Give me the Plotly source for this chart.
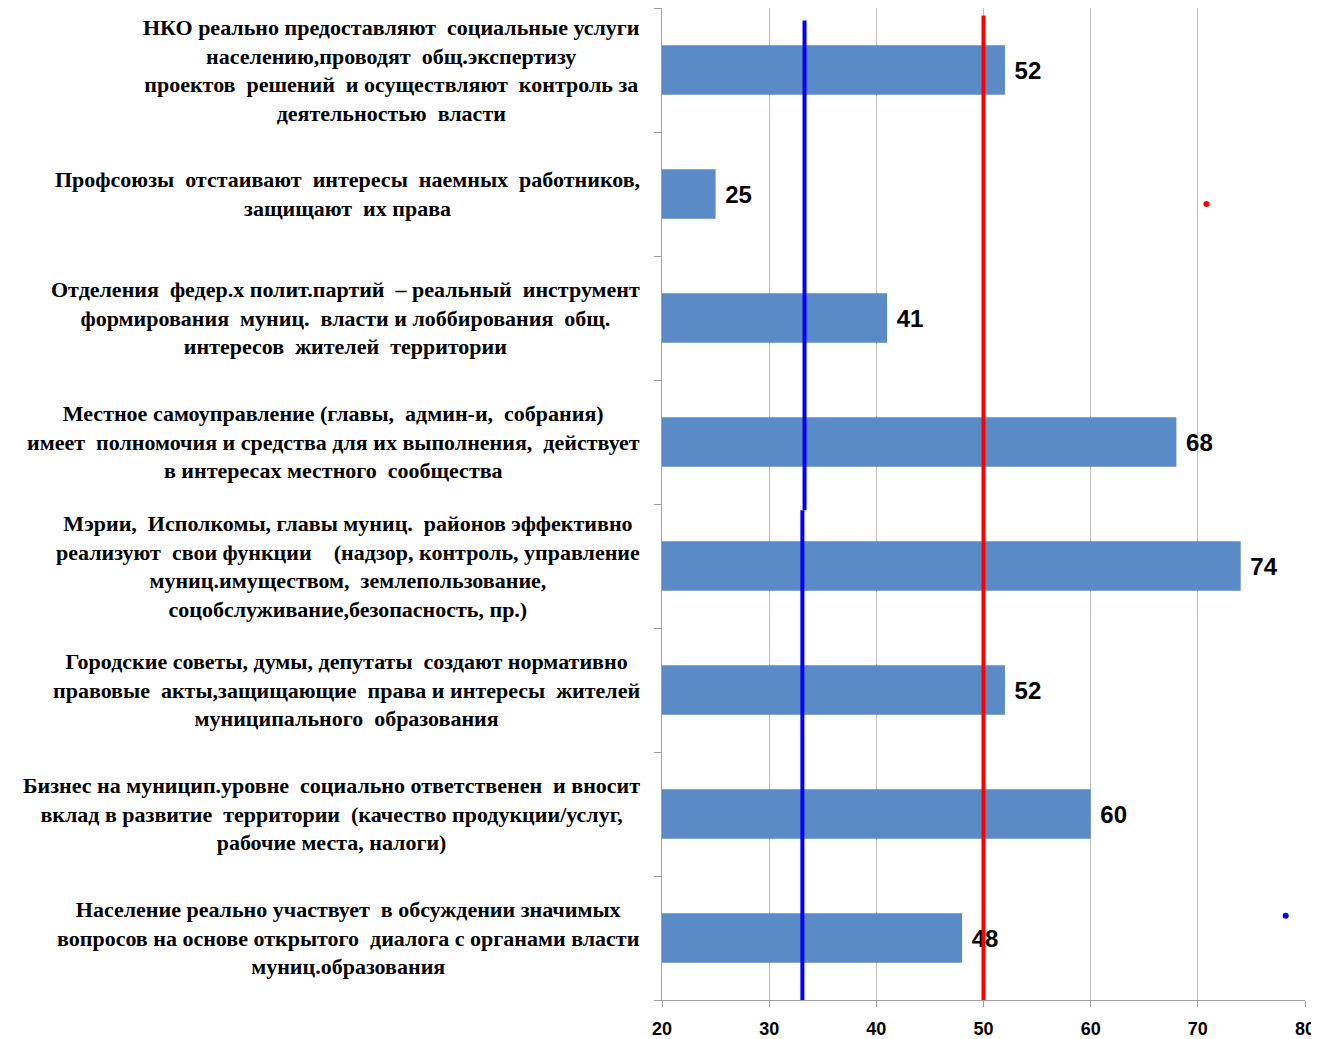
import plotly.graph_objects as go

categories = [
    "НКО реально предоставляют  социальные услуги<br>населению,проводят  общ.экспертизу<br>проектов  решений  и осуществляют  контроль за<br>деятельностью  власти",
    "Профсоюзы  отстаивают  интересы  наемных  работников,<br>защищают  их права",
    "Отделения  федер.х полит.партий  – реальный  инструмент<br>формирования  муниц.  власти и лоббирования  общ.<br>интересов  жителей  территории",
    "Местное самоуправление (главы,  админ-и,  собрания)<br>имеет  полномочия и средства для их выполнения,  действует<br>в интересах местного  сообщества",
    "Мэрии,  Исполкомы, главы муниц.  районов эффективно<br>реализуют  свои функции    (надзор, контроль, управление<br>муниц.имуществом,  землепользование,<br>соцобслуживание,безопасность, пр.)",
    "Городские советы, думы, депутаты  создают нормативно<br>правовые  акты,защищающие  права и интересы  жителей<br>муниципального  образования",
    "Бизнес на муницип.уровне  социально ответственен  и вносит<br>вклад в развитие  территории  (качество продукции/услуг,<br>рабочие места, налоги)",
    "Население реально участвует  в обсуждении значимых<br>вопросов на основе открытого  диалога с органами власти<br>муниц.образования",
]
values = [52, 25, 41, 68, 74, 52, 60, 48]
x_ticks = [20, 30, 40, 50, 60, 70, 80]

blue_threshold_upper = 33.3
blue_threshold_lower = 33.1
red_threshold = 50
red_marker = (70.8, 1.08)
blue_marker = (78.2, 6.82)

idx = list(range(len(categories)))

fig = go.Figure()
fig.add_trace(go.Bar(
    x=values, y=idx, orientation="h", width=0.4,
    marker=dict(color="#5B8BC6", line=dict(width=0)),
    text=values, texttemplate=" %{x}", textposition="outside", cliponaxis=False,
    textfont=dict(family="Liberation Sans", size=24, color="black", weight="bold"),
    showlegend=False,
))
# threshold lines
fig.add_trace(go.Scatter(x=[blue_threshold_upper, blue_threshold_upper], y=[-0.4, 3.55],
                         mode="lines", line=dict(color="#0000FF", width=4), showlegend=False))
fig.add_trace(go.Scatter(x=[blue_threshold_lower, blue_threshold_lower], y=[3.55, 7.5],
                         mode="lines", line=dict(color="#0000FF", width=4), showlegend=False))
fig.add_trace(go.Scatter(x=[red_threshold, red_threshold], y=[-0.44, 7.5],
                         mode="lines", line=dict(color="#FF0000", width=4), showlegend=False))
fig.add_trace(go.Scatter(x=[red_marker[0]], y=[red_marker[1]], mode="markers",
                         marker=dict(color="#FF0000", size=6), showlegend=False))
fig.add_trace(go.Scatter(x=[blue_marker[0]], y=[blue_marker[1]], mode="markers",
                         marker=dict(color="#0000FF", size=6), showlegend=False))

for i, c in enumerate(categories):
    fig.add_annotation(x=0, xref="paper", y=i, yref="y", text="<b>" + c + "</b>",
                       showarrow=False, xanchor="right", yanchor="middle", align="center",
                       xshift=-20,
                       font=dict(family="Liberation Serif", size=22, color="black"))

fig.update_layout(
    width=1311, height=1031,
    margin=dict(l=654, r=14, t=0, b=37),
    plot_bgcolor="white", paper_bgcolor="white",
    bargap=0.6,
)
fig.update_xaxes(range=[20, 80], tickvals=x_ticks, showgrid=True, gridcolor="#BFBFBF", gridwidth=1,
                 showline=True, linecolor="#A0A0A0", linewidth=1, ticks="outside", ticklen=6,
                 tickcolor="#A0A0A0", zeroline=False, ticklabelstandoff=6,
                 tickfont=dict(family="Liberation Sans", size=18, color="black", weight="bold"))
fig.update_yaxes(range=[7.5, -0.5], tickvals=[i + 0.5 for i in range(-1, len(categories))],
                 showticklabels=False, showgrid=False, showline=True, linecolor="#A0A0A0", linewidth=1,
                 ticks="outside", ticklen=7, tickcolor="#A0A0A0", zeroline=False)

fig.write_html(
    "out.html",
    config={"displayModeBar": False},
    post_script="document.documentElement.style.overflow='hidden';document.body.style.overflow='hidden';",
)
